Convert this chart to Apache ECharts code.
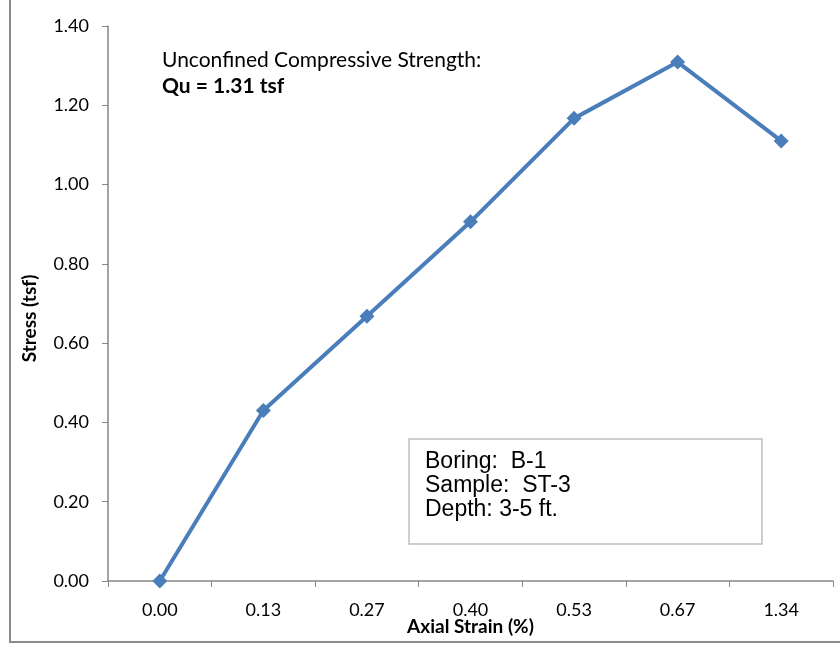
<!DOCTYPE html>
<html><head><meta charset="utf-8">
<script src="https://cdn.jsdelivr.net/npm/echarts@6/dist/echarts.min.js"></script>
<style>html,body{margin:0;padding:0;background:#fff}#c{width:840px;height:645px}</style>
</head><body><div id="c"></div>
<script>
const categories = ['0.00','0.13','0.27','0.40','0.53','0.67','1.34'];
const stress = [0, 0.43, 0.668, 0.906, 1.167, 1.309, 1.11];
const yTicks = [0, 0.2, 0.4, 0.6, 0.8, 1.0, 1.2, 1.4];
const noteLines = ['Boring:  B-1', 'Sample:  ST-3', 'Depth: 3-5 ft.'];
const title1 = 'Unconfined Compressive Strength:';
const title2 = 'Qu = 1.31 tsf';

const font = 'Lato, "Open Sans", sans-serif';
const chart = echarts.init(document.getElementById('c'));
chart.setOption({
  animation: false,
  grid: {left: 108, right: 7, top: 26, bottom: 64, containLabel: false, outerBoundsMode: 'none'},
  xAxis: {
    type: 'category', data: categories, boundaryGap: true,
    name: 'Axial Strain (%)', nameLocation: 'middle', nameGap: 36, nameMoveOverlap: false,
    nameTextStyle: {fontFamily: font, fontWeight: 'bold', fontSize: 19, color: '#000'},
    axisLine: {lineStyle: {color: '#868686', width: 1.5}},
    axisTick: {show: true, length: 6, alignWithLabel: false, lineStyle: {color: '#868686'}},
    axisLabel: {fontFamily: font, fontSize: 18, color: '#000', margin: 20},
    splitLine: {show: false}
  },
  yAxis: {
    type: 'value', min: 0, max: 1.4, interval: 0.2,
    name: 'Stress (tsf)', nameLocation: 'middle', nameGap: 69, nameRotate: 90, nameMoveOverlap: false,
    nameTextStyle: {fontFamily: font, fontWeight: 'bold', fontSize: 19, color: '#000', padding: [0, 30, 0, 0]},
    axisLine: {show: true, lineStyle: {color: '#868686', width: 1.5}},
    axisTick: {show: true, length: 6, inside: false, lineStyle: {color: '#868686'}},
    axisLabel: {fontFamily: font, fontSize: 18, color: '#000', margin: 19,
      formatter: v => yTicks.includes(+v.toFixed(1)) ? v.toFixed(2) : ''},
    splitLine: {show: false}
  },
  series: [{
    type: 'line', data: stress,
    symbol: 'diamond', symbolSize: 15,
    lineStyle: {color: '#4a7ebb', width: 4},
    itemStyle: {color: '#4a7ebb'}
  }],
  graphic: [
    {type: 'rect', shape: {x: 10, y: -2, width: 840, height: 644},
     style: {fill: 'none', stroke: '#8c8c8c', lineWidth: 2}, silent: true},
    {type: 'text', x: 162, y: 60, style: {text: title1, font: '21px ' + font, fill: '#000', verticalAlign: 'middle'}},
    {type: 'text', x: 162, y: 86, style: {text: title2, font: 'bold 21px ' + font, fill: '#000', verticalAlign: 'middle'}},
    {type: 'rect', shape: {x: 409, y: 439, width: 353, height: 105},
     style: {fill: '#fff', stroke: '#bfbfbf', lineWidth: 1.5}},
    {type: 'text', x: 425, y: 486,
     style: {text: noteLines.join('\n'), font: '23px "Liberation Sans", Arial, sans-serif', lineHeight: 24, fill: '#000', verticalAlign: 'middle'}}
  ]
});
</script></body></html>
